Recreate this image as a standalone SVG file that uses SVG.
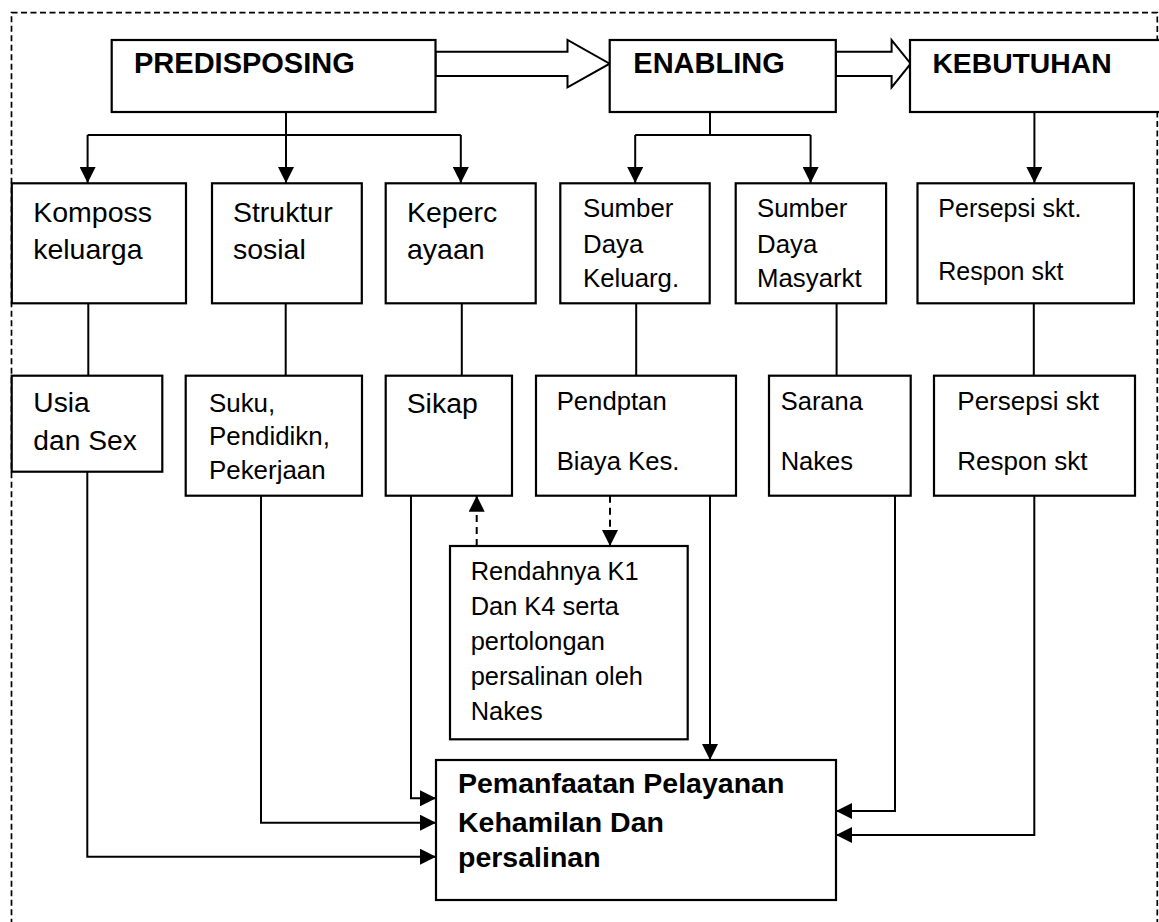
<svg xmlns="http://www.w3.org/2000/svg" width="1159" height="922" viewBox="0 0 1159 922">
<style>
.box{fill:#fff;stroke:#000;stroke-width:2.2}
.ln{fill:none;stroke:#000;stroke-width:2}
.dash{fill:none;stroke:#000;stroke-width:2;stroke-dasharray:7 5}
.border{fill:none;stroke:#000;stroke-width:1.7;stroke-dasharray:6 3.5}
.hollow{fill:#fff;stroke:#000;stroke-width:2;stroke-linejoin:miter}
text{font-family:"Liberation Sans",Arial,sans-serif;fill:#000}
.b{font-weight:bold}
</style>
<defs>
<marker id="ah" viewBox="0 0 16 16" refX="16" refY="8" markerWidth="16" markerHeight="16" markerUnits="userSpaceOnUse" orient="auto">
<path d="M0,0 L16,8 L0,16 z" fill="#000"/>
</marker>
</defs>
<rect class="border" x="11.5" y="12.7" width="1145.8" height="930"/>

<g id="connectors">
<polygon class="hollow" points="435.5,51.7 567.5,51.7 567.5,40 609.7,63.7 567.5,87.3 567.5,76 435.5,76"/>
<polygon class="hollow" points="835.8,51.7 891.6,51.7 891.6,40 910.7,63.7 891.6,87.3 891.6,76 835.8,76"/>
<path class="ln" d="M286,112 V135 M87.6,135 H460.8"/>
<path class="ln" d="M87.6,135 V183" marker-end="url(#ah)"/>
<path class="ln" d="M286,135 V183" marker-end="url(#ah)"/>
<path class="ln" d="M460.8,135 V183" marker-end="url(#ah)"/>
<path class="ln" d="M710,112 V135 M635.2,135 H810.6"/>
<path class="ln" d="M635.2,135 V183" marker-end="url(#ah)"/>
<path class="ln" d="M810.6,135 V183" marker-end="url(#ah)"/>
<path class="ln" d="M1034.4,112 V183" marker-end="url(#ah)"/>
<path class="ln" d="M88.3,303.3 V375.7 M285.7,303.3 V375.7 M461.8,303.3 V375.7 M636.2,303.3 V375.7 M836.6,303.3 V375.7 M1033.8,303.3 V375.7"/>
<path class="ln" d="M87.3,471.7 V856.7 H436" marker-end="url(#ah)"/>
<path class="ln" d="M261,495.7 V822.7 H436" marker-end="url(#ah)"/>
<path class="ln" d="M411,495.7 V798.3 H436" marker-end="url(#ah)"/>
<path class="ln" d="M710,495.7 V760" marker-end="url(#ah)"/>
<path class="ln" d="M895,495.7 V811 H836" marker-end="url(#ah)"/>
<path class="ln" d="M1034.3,495.7 V835 H836" marker-end="url(#ah)"/>
<path class="dash" d="M476.7,546 V495.7" marker-end="url(#ah)"/>
<path class="dash" d="M610,495.7 V546" marker-end="url(#ah)"/>
</g>

<g id="predisposing">
<rect class="box" x="111.7" y="40" width="323.8" height="72"/>
<text class="b" x="134" y="73.3" font-size="29">PREDISPOSING</text>
</g>
<g id="enabling">
<rect class="box" x="609.7" y="40" width="226.1" height="72"/>
<text class="b" x="633.3" y="73.3" font-size="29">ENABLING</text>
</g>
<g id="kebutuhan">
<rect class="box" x="910" y="40" width="252" height="72"/>
<text class="b" x="932.4" y="73.3" font-size="28.3">KEBUTUHAN</text>
</g>

<g id="komposs">
<rect class="box" x="11.8" y="183.3" width="174.2" height="120"/>
<text x="33.2" y="221.7" font-size="28.5">Komposs</text>
<text x="33.2" y="259" font-size="28.5">keluarga</text>
</g>
<g id="struktur">
<rect class="box" x="212" y="183.3" width="149.8" height="120"/>
<text x="232.9" y="221.7" font-size="28.5">Struktur</text>
<text x="232.9" y="259" font-size="28.5">sosial</text>
</g>
<g id="kepercayaan">
<rect class="box" x="385.7" y="183.3" width="150" height="120"/>
<text x="407" y="221.7" font-size="28.5">Keperc</text>
<text x="407" y="259" font-size="28.5">ayaan</text>
</g>
<g id="sumber-keluarga">
<rect class="box" x="560.3" y="183.3" width="149.4" height="120"/>
<text x="583" y="216.7" font-size="25.8">Sumber</text>
<text x="583" y="253.3" font-size="25.8">Daya</text>
<text x="583" y="286.7" font-size="25.8">Keluarg.</text>
</g>
<g id="sumber-masyarakat">
<rect class="box" x="735.7" y="183.3" width="150.4" height="120"/>
<text x="757" y="216.7" font-size="25.8">Sumber</text>
<text x="757" y="253.3" font-size="25.8">Daya</text>
<text x="757" y="286.7" font-size="25.8">Masyarkt</text>
</g>
<g id="persepsi1">
<rect class="box" x="917.5" y="183.3" width="216.4" height="120"/>
<text x="938.3" y="216.7" font-size="25">Persepsi skt.</text>
<text x="938.3" y="280" font-size="25">Respon skt</text>
</g>

<g id="usia">
<rect class="box" x="11.7" y="375.7" width="150.6" height="96"/>
<text x="33.3" y="412.3" font-size="28.2">Usia</text>
<text x="33.3" y="450" font-size="28.2">dan Sex</text>
</g>
<g id="suku">
<rect class="box" x="185.7" y="375.7" width="176.3" height="120"/>
<text x="209" y="411.7" font-size="25.9">Suku,</text>
<text x="209" y="445" font-size="25.9">Pendidikn,</text>
<text x="209" y="479.3" font-size="25.9">Pekerjaan</text>
</g>
<g id="sikap">
<rect class="box" x="385.7" y="375.7" width="126.3" height="120"/>
<text x="406.7" y="413" font-size="28.4">Sikap</text>
</g>
<g id="pendapatan">
<rect class="box" x="536" y="375.7" width="200" height="120"/>
<text x="556.7" y="410" font-size="25.7">Pendptan</text>
<text x="556.7" y="470" font-size="25.7">Biaya Kes.</text>
</g>
<g id="sarana">
<rect class="box" x="769" y="375.7" width="141.7" height="120"/>
<text x="780.7" y="410" font-size="25.5">Sarana</text>
<text x="780.7" y="470" font-size="25.5">Nakes</text>
</g>
<g id="persepsi2">
<rect class="box" x="934" y="375.7" width="201" height="120"/>
<text x="957.3" y="410" font-size="26">Persepsi skt</text>
<text x="957.3" y="470" font-size="26">Respon skt</text>
</g>

<g id="rendahnya">
<rect class="box" x="450" y="546" width="237.7" height="193.3"/>
<text x="470.7" y="580" font-size="25.4">Rendahnya K1</text>
<text x="470.7" y="615" font-size="25.4">Dan K4 serta</text>
<text x="470.7" y="650" font-size="25.4">pertolongan</text>
<text x="470.7" y="685" font-size="25.4">persalinan oleh</text>
<text x="470.7" y="720" font-size="25.4">Nakes</text>
</g>

<g id="pemanfaatan">
<rect class="box" x="436" y="760" width="400" height="140"/>
<text class="b" x="458" y="793" font-size="28.5">Pemanfaatan Pelayanan</text>
<text class="b" x="458" y="831.7" font-size="28.5">Kehamilan Dan</text>
<text class="b" x="458" y="866.7" font-size="28.5">persalinan</text>
</g>
</svg>
